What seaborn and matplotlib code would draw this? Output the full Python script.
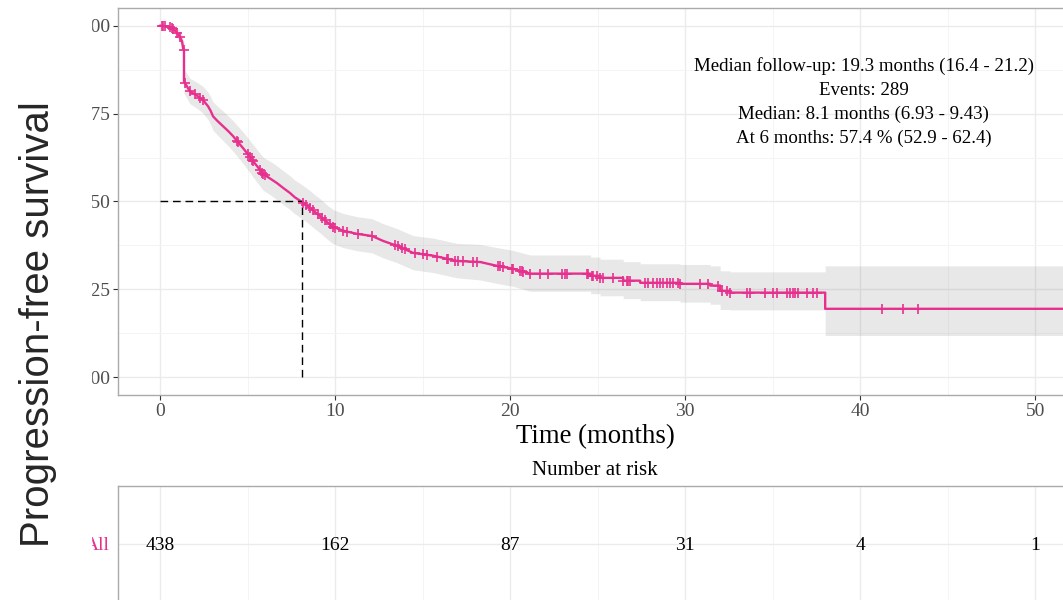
import numpy as np
import matplotlib.pyplot as plt
from matplotlib.patches import Rectangle
import seaborn as sns

# Kaplan-Meier curve vertices: months, survival, 95% CI
time_pts = [0.00, 0.46, 0.69, 0.91, 1.09, 1.26, 1.33, 1.37, 1.37, 1.71, 2.11, 2.46, 2.74,
            2.90, 3.03, 3.30, 3.60, 3.90, 4.17, 4.45, 4.74, 5.03, 5.31, 5.60, 5.89,
            6.30, 6.69, 7.05, 7.43, 7.70, 8.10, 8.57, 8.85, 9.14, 9.50, 9.89, 10.46,
            11.26, 12.11, 12.74, 13.54, 14.46, 15.60, 16.97, 18.29, 19.26, 20.17,
            21.14, 24.60, 24.60, 25.14, 25.14, 26.46, 26.46, 27.43, 27.43, 29.71, 29.71,
            31.43, 31.43, 32.00, 32.00, 32.57, 32.57, 38.00, 38.00, 52.10]
surv_pts = [1.000, 0.997, 0.992, 0.983, 0.972, 0.955, 0.932, 0.932, 0.841, 0.813, 0.801, 0.788, 0.771,
            0.757, 0.742, 0.728, 0.714, 0.700, 0.686, 0.669, 0.652, 0.634, 0.615, 0.597, 0.578,
            0.565, 0.552, 0.538, 0.524, 0.512, 0.499, 0.482, 0.470, 0.459, 0.443, 0.428, 0.417,
            0.408, 0.402, 0.388, 0.374, 0.354, 0.346, 0.331, 0.328, 0.317, 0.309,
            0.295, 0.295, 0.289, 0.289, 0.283, 0.283, 0.275, 0.275, 0.269, 0.269, 0.266,
            0.266, 0.261, 0.261, 0.246, 0.246, 0.241, 0.241, 0.195, 0.195]
ci_low = [1.000, 0.991, 0.983, 0.971, 0.957, 0.936, 0.909, 0.909, 0.808, 0.778, 0.765, 0.751, 0.733,
          0.718, 0.702, 0.688, 0.673, 0.658, 0.643, 0.626, 0.608, 0.589, 0.570, 0.551, 0.532,
          0.519, 0.505, 0.491, 0.477, 0.465, 0.452, 0.434, 0.422, 0.411, 0.395, 0.380, 0.369,
          0.360, 0.354, 0.340, 0.326, 0.306, 0.298, 0.283, 0.277, 0.267, 0.259,
          0.245, 0.245, 0.238, 0.238, 0.232, 0.232, 0.224, 0.224, 0.218, 0.218, 0.214,
          0.214, 0.208, 0.208, 0.193, 0.193, 0.192, 0.192, 0.119, 0.119]
ci_high = [1.000, 1.000, 1.000, 0.995, 0.988, 0.975, 0.956, 0.956, 0.876, 0.850, 0.839, 0.827, 0.811,
           0.797, 0.783, 0.770, 0.757, 0.743, 0.730, 0.714, 0.698, 0.680, 0.662, 0.644, 0.626,
           0.614, 0.601, 0.587, 0.573, 0.561, 0.548, 0.531, 0.519, 0.508, 0.492, 0.477, 0.466,
           0.457, 0.451, 0.437, 0.423, 0.403, 0.396, 0.381, 0.378, 0.369, 0.361,
           0.348, 0.348, 0.342, 0.342, 0.336, 0.336, 0.329, 0.329, 0.323, 0.323, 0.321,
           0.321, 0.317, 0.317, 0.303, 0.303, 0.300, 0.300, 0.317, 0.317]

censor_times = [0.10, 0.17, 0.29, 0.57, 0.69, 0.74, 0.97, 1.14, 1.35, 1.42, 1.71, 2.0, 2.29,
                2.46, 4.4, 4.46, 5.03, 5.14, 5.26, 5.31, 5.71, 5.83, 5.89, 6.0, 8.17, 8.34,
                8.57, 8.74, 9.03, 9.26, 9.43, 9.71, 9.89, 10.0, 10.46, 10.69, 11.31, 12.11,
                13.43, 13.6, 13.83, 14.0, 14.57, 15.03, 15.26, 15.83, 16.4, 16.46, 16.86,
                17.03, 17.31, 17.89, 18.11, 19.31, 19.43, 19.6, 20.11, 20.17, 20.57, 20.69,
                20.74, 21.14, 21.71, 22.17, 22.97, 23.14, 23.26, 24.4, 24.46, 24.69, 24.74,
                24.97, 25.14, 25.31, 25.89, 26.46, 26.69, 26.74, 26.86, 27.71, 27.89, 28.17,
                28.4, 28.57, 28.74, 28.97, 29.14, 29.31, 29.6, 29.71, 30.86, 31.31, 31.89,
                32.11, 32.4, 32.57, 33.54, 33.71, 34.57, 35.03, 35.26, 35.83, 36.0, 36.17,
                36.29, 36.46, 36.97, 37.31, 37.54, 41.26, 42.46, 43.31]

risk_times = [0, 10, 20, 30, 40, 50]
risk_counts = [438, 162, 87, 31, 4, 1]

x_ticks = [0, 10, 20, 30, 40, 50]
y_ticks = [0, 0.25, 0.5, 0.75, 1.0]
y_ticklabels = ["0.00", "0.25", "0.50", "0.75", "1.00"]

median_time = 8.1
annot_lines = ["Median follow-up: 19.3 months (16.4 - 21.2)",
               "Events: 289",
               "Median: 8.1 months (6.93 - 9.43)",
               "At 6 months: 57.4 % (52.9 - 62.4)"]

pink = "#E7308E"
W, H = 1063, 600

sns.set_theme(style="whitegrid")
plt.rcParams['font.family'] = ['Liberation Serif', 'DejaVu Serif']

fig = plt.figure(figsize=(W / 100, H / 100), dpi=100)
ax = fig.add_axes([118 / W, 1 - 395 / H, (1072 - 118) / W, 387 / H])
ax_tab = fig.add_axes([118 / W, 1 - 602 / H, (1072 - 118) / W, 116 / H])

# survival curve with CI band and censor ticks
t = np.array(time_pts)
s = np.array(surv_pts)
ax.fill_between(t, ci_low, ci_high, color="gray", alpha=0.18, lw=0, zorder=2)
sns.lineplot(x=t, y=s, color=pink, lw=1.7, ax=ax, estimator=None, sort=False, zorder=3)
sns.scatterplot(x=censor_times, y=np.interp(censor_times, t, s), marker="+", s=55,
                color=pink, linewidth=1.2, ax=ax, zorder=4)

# median lines
ax.plot([0, median_time], [0.5, 0.5], color="black", lw=1.0, dashes=(5.5, 3.5), zorder=3)
ax.plot([median_time, median_time], [0, 0.5], color="black", lw=1.0, dashes=(5.5, 3.5), zorder=3)

ax.text(40.2, 0.782, "\n".join(annot_lines), ha="center", va="center",
        fontsize=13.6, linespacing=1.52, color="black")

for a in (ax, ax_tab):
    a.set_xlim(-2.4, 52.1)
    a.set_xticks(x_ticks)
    a.set_xticks([5, 15, 25, 35, 45], minor=True)
    a.grid(which="major", color="#ebebeb", lw=1.0)
    a.grid(which="minor", color="#f4f4f4", lw=0.7)
    a.set_axisbelow(True)
    for sp in a.spines.values():
        sp.set_color("#aaaaaa")
        sp.set_linewidth(1.0)
    a.tick_params(which="minor", length=0)

ax.set_ylim(-0.05, 1.05)
ax.set_yticks(y_ticks)
ax.set_yticklabels(y_ticklabels)
ax.set_yticks([0.125, 0.375, 0.625, 0.875], minor=True)
ax.tick_params(which="major", length=3.3, width=0.8, color="#333333", labelcolor="#4d4d4d",
               labelsize=14, pad=2.5, left=True, bottom=True)
ax.set_xlabel("Time (months)", fontsize=19.3, labelpad=3, color="black")
ax.set_ylabel("")

# number at risk table
ax_tab.set_ylim(0.5, 1.5)
ax_tab.set_yticks([1])
ax_tab.set_yticklabels(["All"])
ax_tab.tick_params(axis="y", length=0, labelsize=14, pad=6, labelcolor=pink)
ax_tab.tick_params(axis="x", length=0, labelbottom=False)
for rt, rc in zip(risk_times, risk_counts):
    ax_tab.text(rt, 1, str(rc), ha="center", va="center_baseline", fontsize=14, color="black")
ax_tab.text(0.5, (602 - 470) / 116, "Number at risk", transform=ax_tab.transAxes,
            ha="center", va="center", fontsize=15, color="black")

# cover strip and big axis label on the left
fig.patches.append(Rectangle((0, 0), 91 / W, 1, transform=fig.transFigure,
                             color="white", zorder=5))
fig.text(38 / W, 1 - 324 / H, "Progression-free survival", rotation=90, fontsize=29,
         family=["Liberation Sans", "DejaVu Sans"], ha="center", va="center", zorder=6)

fig.savefig("out.png", dpi=100)
